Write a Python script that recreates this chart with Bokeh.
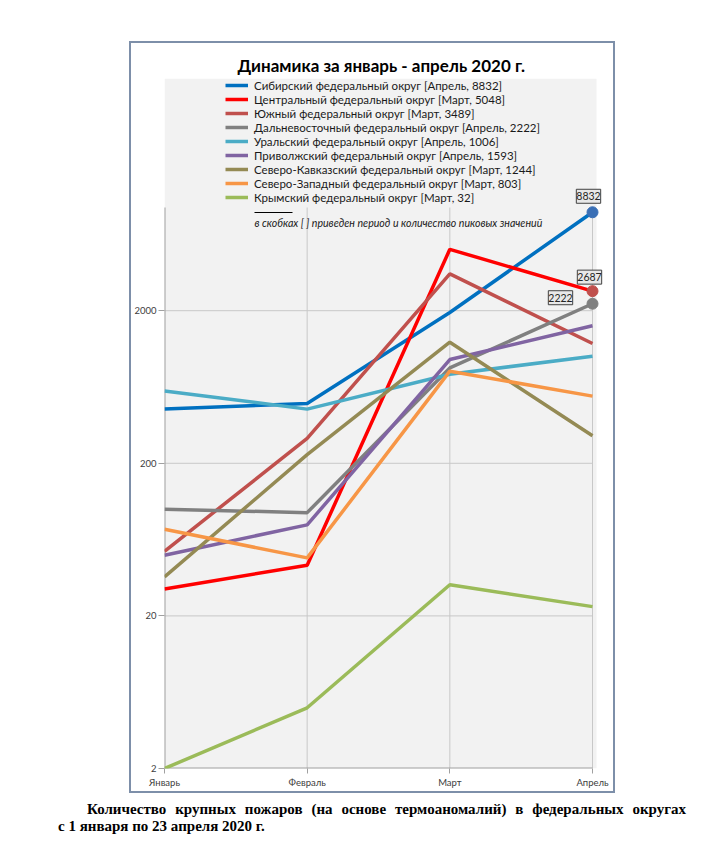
from bokeh.plotting import figure
from bokeh.layouts import column
from bokeh.models import (Range1d, FixedTicker, Legend, LegendItem, Label,
                          BoxAnnotation, NumeralTickFormatter, Div)
from bokeh.embed import file_html
from bokeh.resources import INLINE

# ---------------- data ----------------
months = ["Январь", "Февраль", "Март", "Апрель"]

legend_labels = [
    "Сибирский федеральный округ [Апрель, 8832]",
    "Центральный федеральный округ [Март, 5048]",
    "Южный федеральный округ [Март, 3489]",
    "Дальневосточный федеральный округ [Апрель, 2222]",
    "Уральский федеральный округ [Апрель, 1006]",
    "Приволжский федеральный округ [Апрель, 1593]",
    "Северо-Кавказский федеральный округ [Март, 1244]",
    "Северо-Западный федеральный округ [Март, 803]",
    "Крымский федеральный округ [Март, 32]",
]

sibirsky = [453, 493, 1946, 8832]
centralny = [30, 43, 5048, 2687]
yuzhny = [53, 291, 3489, 1220]
dalnevostochny = [100, 95, 843, 2222]
uralsky = [596, 453, 767, 1006]
privolzhsky = [50, 79, 957, 1593]
sev_kavkazsky = [36, 228, 1244, 303]
sev_zapadny = [74, 48, 803, 551]
krymsky = [2, 5, 32, 23]

series = [sibirsky, centralny, yuzhny, dalnevostochny, uralsky,
          privolzhsky, sev_kavkazsky, sev_zapadny, krymsky]

y_ticks = [2, 20, 200, 2000]

title_text = "Динамика за январь - апрель 2020 г."
note_text = "в скобках [ ] приведен период и количество пиковых значений"
caption_1 = "Количество крупных пожаров (на основе термоаномалий) в федеральных округах"
caption_2 = "с 1 января по 23 апреля 2020 г."

# ---------------- styles ----------------
colors = ["#0070c0", "#ff0000", "#c0504d", "#808080", "#4bacc6",
          "#8064a2", "#948a54", "#f79646", "#9bbb59"]

PX_PER_MONTH = 428 / 3.0
PLOT_W = 432            # width of the grey plot area
FRAME_W, FRAME_H = 444, 690
PX_PER_DECADE = 152.6
Y_MIN = 2
Y_END = Y_MIN * 10 ** (FRAME_H / PX_PER_DECADE)
Y_AXIS_TOP = Y_MIN * 10 ** (561 / PX_PER_DECADE)
X_END = FRAME_W / PX_PER_MONTH
FONT = "Lato"
GRID = "#c8c8c8"
AXIS = "#a0a0a0"

p = figure(frame_width=FRAME_W, frame_height=FRAME_H,
           min_border_left=33, min_border_right=5,
           min_border_top=35, min_border_bottom=23,
           x_range=Range1d(0, X_END), y_range=Range1d(Y_MIN, Y_END),
           y_axis_type="log", output_backend="svg", toolbar_location=None,
           title=title_text, margin=(43, 0, 0, 131))

p.styles = {"outline": "2px solid #7d8fa9", "outline-offset": "0px"}
p.background_fill_color = "white"
p.border_fill_color = "white"
p.outline_line_color = None

p.title.text_font = FONT
p.title.text_font_style = "bold"
p.title.text_font_size = "17px"
p.title.text_color = "black"
p.title.align = "left"
p.title.offset = 73
p.title.standoff = 6

# grey plot area
p.add_layout(BoxAnnotation(left=0, right=PLOT_W, bottom=0, top=FRAME_H,
                           left_units="screen", right_units="screen",
                           top_units="screen", bottom_units="screen",
                           fill_color="#f2f2f2", fill_alpha=1, line_color=None,
                           level="underlay"))

# axes
xs = list(range(len(months)))
p.xaxis.ticker = FixedTicker(ticks=xs)
p.xaxis.major_label_overrides = {i: m for i, m in enumerate(months)}
p.xaxis.axis_line_color = None
p.xaxis.major_tick_line_color = AXIS
p.xaxis.major_tick_out = 5
p.xaxis.major_tick_in = 0
p.xaxis.minor_tick_line_color = None
p.xaxis.major_label_standoff = 3
p.xaxis.major_label_text_font = FONT
p.xaxis.major_label_text_font_size = "9.5px"
p.xaxis.major_label_text_color = "#404040"

p.yaxis.ticker = FixedTicker(ticks=y_ticks)
p.yaxis.formatter = NumeralTickFormatter(format="0")
p.yaxis.axis_line_color = None
p.yaxis.major_tick_line_color = AXIS
p.yaxis.major_tick_out = 6
p.yaxis.major_tick_in = 0
p.yaxis.minor_tick_line_color = None
p.yaxis.major_label_standoff = 2
p.yaxis.major_label_text_font = FONT
p.yaxis.major_label_text_font_size = "9.5px"
p.yaxis.major_label_text_color = "#404040"

p.xgrid.grid_line_color = None
p.ygrid.grid_line_color = None

# gridlines (up to the top of the value axis / last month only)
p.segment(x0=xs[1:], y0=[Y_MIN] * 3, x1=xs[1:], y1=[Y_AXIS_TOP] * 3,
          line_color=GRID, line_width=1)
p.segment(x0=[xs[0]] * 3, y0=y_ticks[1:], x1=[xs[-1]] * 3, y1=y_ticks[1:],
          line_color=GRID, line_width=1)
# axis lines
p.segment(x0=[xs[0]], y0=[Y_MIN], x1=[xs[0]], y1=[Y_AXIS_TOP],
          line_color=AXIS, line_width=2)
p.segment(x0=[xs[0]], y0=[Y_MIN], x1=[xs[-1]], y1=[Y_MIN],
          line_color=AXIS, line_width=2)

# lines
items = []
for vals, col, lab in zip(series, colors, legend_labels):
    r = p.line(x=xs, y=vals, line_color=col, line_width=3.5)
    items.append(LegendItem(label=lab, renderers=[r]))

# markers + data labels at April
marked = [(sibirsky, "#3a6fb5", (-4, 16)), (centralny, "#c0504d", (-3, 14)),
          (dalnevostochny, "#808080", (-32, 6))]
for vals, col, (dx, dy) in marked:
    p.scatter(x=[xs[-1]], y=[vals[-1]], size=11, fill_color=col, line_color=col)
    p.add_layout(Label(x=xs[-1], y=vals[-1], x_offset=dx, y_offset=dy,
                       text=str(vals[-1]), text_font=FONT, text_font_size="10.5px",
                       text_color="#262626", text_align="center", text_baseline="middle",
                       background_fill_color="#e8e8e8", border_line_color="#404040",
                       border_line_width=1, padding=(0, 3)))

legend = Legend(items=items, location=(61, FRAME_H - 9 * 14), padding=0, spacing=0,
                margin=0, label_height=14, glyph_height=14, glyph_width=23,
                label_standoff=6, background_fill_alpha=0, border_line_color=None,
                label_text_font=FONT, label_text_font_size="11.5px",
                label_text_color="#1a1a1a")
p.add_layout(legend)

# note under legend
p.add_layout(BoxAnnotation(left=90, right=128, top=556.5, bottom=555.5,
                           left_units="screen", right_units="screen",
                           top_units="screen", bottom_units="screen",
                           fill_color="black", fill_alpha=1, line_color=None))
p.add_layout(Label(x=90, y=546, x_units="screen", y_units="screen",
                   text=note_text, text_font=FONT, text_font_style="italic",
                   text_font_size="10.6px", text_color="#1a1a1a",
                   text_align="left", text_baseline="middle"))

# caption below the chart
caption = Div(
    text=(f"<div style='text-indent:29px;width:628px;text-align:justify;"
          f"text-align-last:justify;white-space:nowrap'>{caption_1}</div>"
          f"<div style='white-space:nowrap'>{caption_2}</div>"),
    styles={"font-family": "'Liberation Serif', serif", "font-weight": "bold",
            "font-size": "15px", "line-height": "17px", "color": "black"},
    width=650, margin=(10, 0, 0, 58))

layout = column(p, caption, spacing=0)

open("out.html", "w").write(file_html(layout, INLINE))
